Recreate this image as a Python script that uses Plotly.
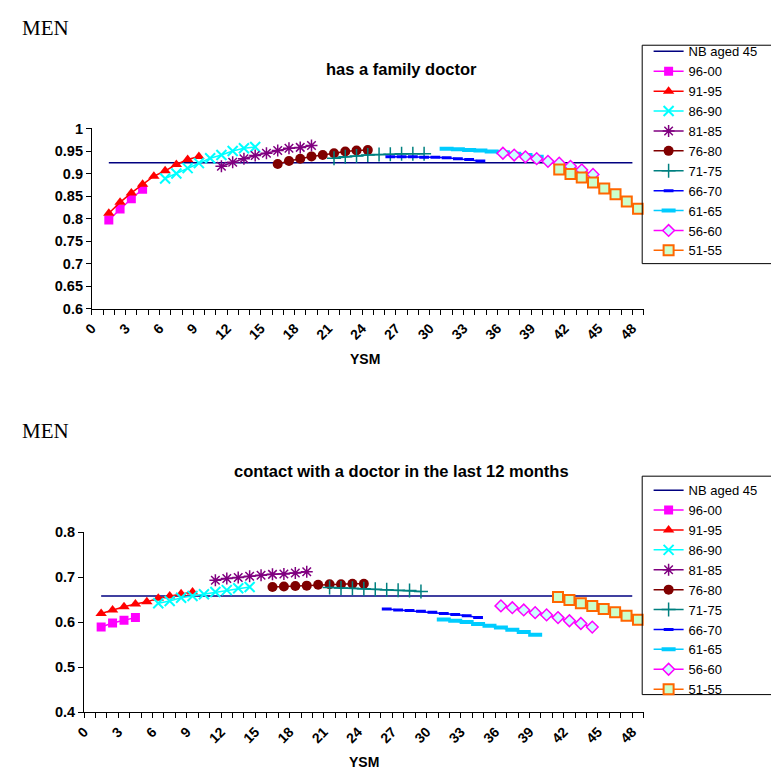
import plotly.graph_objects as go

# ---------------- data ----------------
series_names = ["96-00", "91-95", "86-90", "81-85", "76-80", "71-75",
                "66-70", "61-65", "56-60", "51-55"]

ysm_96_00 = [1.5, 2.5, 3.5, 4.5]
ysm_91_95 = [1.5, 2.5, 3.5, 4.5, 5.5, 6.5, 7.5, 8.5, 9.5]
ysm_86_90 = [6.5, 7.5, 8.5, 9.5, 10.5, 11.5, 12.5, 13.5, 14.5]
ysm_81_85 = [11.5, 12.5, 13.5, 14.5, 15.5, 16.5, 17.5, 18.5, 19.5]
ysm_76_80 = [16.5, 17.5, 18.5, 19.5, 20.5, 21.5, 22.5, 23.5, 24.5]
ysm_71_75 = [21.5, 22.5, 23.5, 24.5, 25.5, 26.5, 27.5, 28.5, 29.5]
ysm_66_70 = [26.5, 27.5, 28.5, 29.5, 30.5, 31.5, 32.5, 33.5, 34.5]
ysm_61_65 = [31.5, 32.5, 33.5, 34.5, 35.5, 36.5, 37.5, 38.5, 39.5]
ysm_56_60 = [36.5, 37.5, 38.5, 39.5, 40.5, 41.5, 42.5, 43.5, 44.5]
ysm_51_55 = [41.5, 42.5, 43.5, 44.5, 45.5, 46.5, 47.5, 48.5]
nb_ysm = [1.5, 48.0]

# top chart: has a family doctor
fd_nb45 = 0.924
fd_96_00 = [0.797, 0.821, 0.844, 0.865]
fd_91_95 = [0.812, 0.836, 0.857, 0.876, 0.894, 0.906, 0.920, 0.931, 0.938]
fd_86_90 = [0.889, 0.900, 0.912, 0.923, 0.934, 0.941, 0.950, 0.956, 0.959]
fd_81_85 = [0.916, 0.925, 0.933, 0.940, 0.945, 0.951, 0.956, 0.958, 0.962]
fd_76_80 = [0.921, 0.928, 0.933, 0.938, 0.941, 0.945, 0.949, 0.951, 0.952]
fd_71_75 = [0.934, 0.937, 0.939, 0.941, 0.942, 0.943, 0.944, 0.944, 0.944]
fd_66_70 = [0.937, 0.937, 0.937, 0.936, 0.936, 0.935, 0.933, 0.931, 0.928]
fd_61_65 = [0.955, 0.954, 0.952, 0.951, 0.949, 0.947, 0.944, 0.941, 0.937]
fd_56_60 = [0.945, 0.941, 0.937, 0.933, 0.927, 0.923, 0.916, 0.908, 0.898]
fd_51_55 = [0.909, 0.899, 0.891, 0.880, 0.867, 0.854, 0.838, 0.822]

# bottom chart: contact with a doctor in the last 12 months
cd_nb45 = 0.658
cd_96_00 = [0.589, 0.598, 0.604, 0.610]
cd_91_95 = [0.619, 0.627, 0.634, 0.640, 0.645, 0.653, 0.658, 0.663, 0.667]
cd_86_90 = [0.642, 0.647, 0.654, 0.658, 0.662, 0.667, 0.671, 0.675, 0.678]
cd_81_85 = [0.693, 0.697, 0.699, 0.702, 0.704, 0.706, 0.707, 0.709, 0.712]
cd_76_80 = [0.678, 0.679, 0.680, 0.681, 0.683, 0.684, 0.684, 0.685, 0.685]
cd_71_75 = [0.677, 0.676, 0.675, 0.674, 0.673, 0.672, 0.671, 0.670, 0.668]
cd_66_70 = [0.629, 0.627, 0.626, 0.624, 0.622, 0.619, 0.617, 0.614, 0.610]
cd_61_65 = [0.606, 0.603, 0.600, 0.596, 0.592, 0.588, 0.583, 0.578, 0.572]
cd_56_60 = [0.636, 0.632, 0.627, 0.621, 0.616, 0.610, 0.603, 0.597, 0.589]
cd_51_55 = [0.656, 0.649, 0.642, 0.636, 0.629, 0.622, 0.614, 0.605]

x_tickvals = list(range(0, 49, 3))
x_ticktext = [str(v) for v in x_tickvals]

# ---------------- styles ----------------
styles = {
    "96-00": dict(color="#FF00FF", symbol="square", size=9, fill="#FF00FF", mlw=0),
    "91-95": dict(color="#FF0000", symbol="triangle-up", size=10, fill="#FF0000", mlw=0),
    "86-90": dict(color="#00FFFF", symbol="x-thin", size=10, fill="#00FFFF", mlw=2),
    "81-85": dict(color="#800080", symbol="asterisk", size=10, fill="#800080", mlw=1.5),
    "76-80": dict(color="#800000", symbol="circle", size=10, fill="#800000", mlw=0),
    "71-75": dict(color="#008080", symbol="cross-thin", size=10, fill="#008080", mlw=1.5),
    "66-70": dict(color="#0000FF", symbol="line-ew", size=7, fill="#0000FF", mlw=3),
    "61-65": dict(color="#00CCFF", symbol="line-ew", size=10, fill="#00CCFF", mlw=4),
    "56-60": dict(color="#FF00FF", symbol="diamond", size=9, fill="#CCFFFF", mlw=1.5),
    "51-55": dict(color="#FF6600", symbol="square", size=10, fill="#CCFFCC", mlw=2),
}

xs = [ysm_96_00, ysm_91_95, ysm_86_90, ysm_81_85, ysm_76_80, ysm_71_75,
      ysm_66_70, ysm_61_65, ysm_56_60, ysm_51_55]
top_ys = [fd_96_00, fd_91_95, fd_86_90, fd_81_85, fd_76_80, fd_71_75,
          fd_66_70, fd_61_65, fd_56_60, fd_51_55]
bot_ys = [cd_96_00, cd_91_95, cd_86_90, cd_81_85, cd_76_80, cd_71_75,
          cd_66_70, cd_61_65, cd_56_60, cd_51_55]

FONT = "Liberation Sans, Arial, sans-serif"
SERIF = "Liberation Serif, Times New Roman, serif"
fig = go.Figure()


def add_panel(ys, nb, xaxis, yaxis, legend):
    fig.add_trace(go.Scatter(
        x=nb_ysm, y=[nb, nb], mode="lines", name="NB aged 45",
        line=dict(color="#000080", width=1.5),
        xaxis=xaxis, yaxis=yaxis, legend=legend))
    for name, x, y in zip(series_names, xs, ys):
        s = styles[name]
        fig.add_trace(go.Scatter(
            x=x, y=y, mode="lines+markers", name=name,
            line=dict(color=s["color"], width=1.5),
            marker=dict(symbol=s["symbol"], size=s["size"], color=s["fill"],
                        line=dict(color=s["color"], width=s["mlw"])),
            xaxis=xaxis, yaxis=yaxis, legend=legend))


add_panel(top_ys, fd_nb45, "x", "y", "legend")
add_panel(bot_ys, cd_nb45, "x2", "y2", "legend2")

W, H = 771, 779
xaxis_common = dict(
    range=[0, 49], showgrid=False, zeroline=False, showline=True,
    linecolor="black", linewidth=1, ticks="outside", ticklen=5,
    tickcolor="black", tickvals=x_tickvals, ticktext=x_ticktext,
    tickangle=-45, tickfont=dict(family=FONT, size=14, color="black", weight="bold"),
    minor=dict(dtick=1, ticks="outside", ticklen=5, tickcolor="black", showgrid=False),
)
yaxis_common = dict(
    showgrid=False, zeroline=False, showline=True, linecolor="black",
    linewidth=1, ticks="outside", ticklen=5, tickcolor="black",
    tickfont=dict(family=FONT, size=14.5, color="black", weight="bold"),
)

legend_common = dict(
    bgcolor="rgba(0,0,0,0)", borderwidth=0,
    font=dict(family=FONT, size=13, color="black"),
    xanchor="left", yanchor="top", tracegroupgap=0, itemwidth=30,
)

fig.update_layout(
    width=W, height=H, margin=dict(l=0, r=0, t=0, b=0),
    paper_bgcolor="white", plot_bgcolor="white",
    showlegend=True,
    xaxis=dict(domain=[83 / W, 642 / W], anchor="y", **xaxis_common),
    yaxis=dict(domain=[(H - 307) / H, (H - 123) / H], anchor="x",
               range=[0.6, 1.0], tickvals=[0.6, 0.65, 0.7, 0.75, 0.8, 0.85, 0.9, 0.95, 1.0],
               ticktext=["0.6", "0.65", "0.7", "0.75", "0.8", "0.85", "0.9", "0.95", "1"],
               **yaxis_common),
    xaxis2=dict(domain=[75 / W, 642 / W], anchor="y2", **xaxis_common),
    yaxis2=dict(domain=[(H - 719) / H, (H - 535) / H], anchor="x2",
                range=[0.4, 0.8], tickvals=[0.4, 0.5, 0.6, 0.7, 0.8],
                ticktext=["0.4", "0.5", "0.6", "0.7", "0.8"], **yaxis_common),
    legend=dict(x=647 / W, y=(H - 29) / H, **legend_common),
    legend2=dict(x=647 / W, y=(H - 477) / H, **legend_common),
)

# legend frames (extend past the right edge as in the reference)
for top, bottom in [(38, 261), (478, 701)]:
    fig.add_shape(type="rect", xref="paper", yref="paper",
                  x0=640.5 / W, x1=780 / W, y0=(H - bottom) / H, y1=(H - top) / H,
                  line=dict(color="black", width=1), fillcolor="rgba(0,0,0,0)",
                  layer="above")

annos = [
    dict(text="MEN", x=10, y=20, size=21, family=SERIF, bold=False, xa="left"),
    dict(text="has a family doctor", x=397, y=62, size=16.5, family=FONT, bold=True, xa="center"),
    dict(text="YSM", x=360, y=358, size=14, family=FONT, bold=True, xa="center"),
    dict(text="MEN", x=10, y=432, size=21, family=SERIF, bold=False, xa="left"),
    dict(text="contact with a doctor in the last 12 months", x=397, y=473, size=16.5, family=FONT, bold=True, xa="center"),
    dict(text="YSM", x=359, y=770, size=14, family=FONT, bold=True, xa="center"),
]
for a in annos:
    fig.add_annotation(
        text=("<b>%s</b>" % a["text"]) if a["bold"] else a["text"],
        x=a["x"] / W, y=(H - a["y"]) / H, xref="paper", yref="paper",
        xanchor=a["xa"], yanchor="middle", showarrow=False,
        font=dict(family=a["family"], size=a["size"], color="black"))

fig.write_html("out.html")
